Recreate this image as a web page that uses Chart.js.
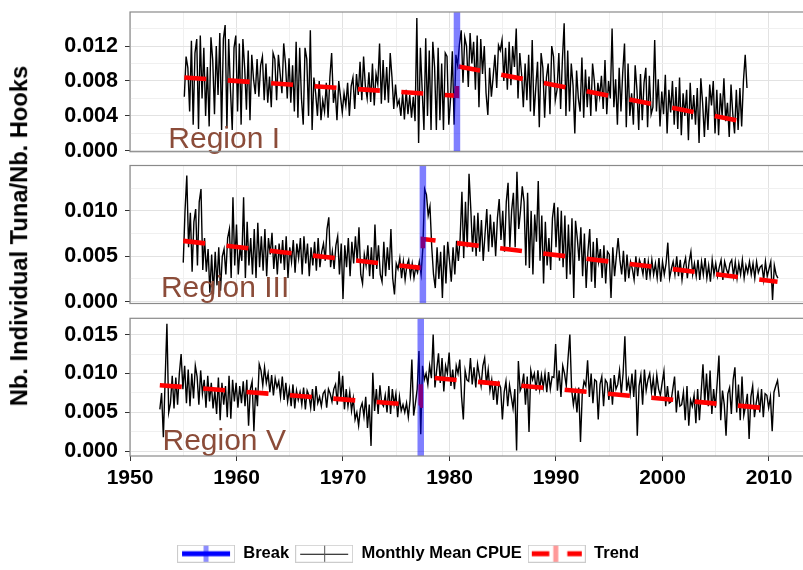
<!DOCTYPE html>
<html>
<head>
<meta charset="utf-8">
<title>Mean CPUE by region</title>
<script src="https://cdn.jsdelivr.net/npm/chart.js@4.4.1/dist/chart.umd.min.js"></script>
<style>
  html, body { margin: 0; padding: 0; background: #fff; overflow: hidden; }
  #wrap { position: relative; width: 803px; height: 570px; overflow: hidden; }
  #wrap canvas { position: absolute; left: 0; }
  #ytitle { position: absolute; left: 19.5px; top: 236px; transform: translate(-50%, -50%) rotate(-90deg);
    font: bold 23.7px "Liberation Sans", Arial, sans-serif; line-height: 1; white-space: nowrap; color: #000; }
</style>
</head>
<body>
<div id="wrap">
  <canvas id="c1" width="812" height="160" style="top:0px"></canvas>
  <canvas id="c2" width="812" height="155" style="top:155px"></canvas>
  <canvas id="c3" width="812" height="272" style="top:300px"></canvas>
  <div id="ytitle">Nb. Individual Tuna/Nb. Hooks</div>
</div>
<script>
const FONT = '"Liberation Sans", Arial, Helvetica, sans-serif';

// x axis: major years carry a label, minor years only a grid line
const xMajor = [1950, 1960, 1970, 1980, 1990, 2000, 2010];
const xMinor = [1955, 1965, 1975, 1985, 1995, 2005];

// y ticks per panel
const yMajorI = [0, 0.004, 0.008, 0.012];
const yMinorI = [0.002, 0.006, 0.010, 0.014];
const yMajorIII = [0, 0.005, 0.010];
const yMinorIII = [0.0025, 0.0075, 0.0125];
const yMajorV = [0, 0.005, 0.010, 0.015];
const yMinorV = [0.0025, 0.0075, 0.0125];

const regionNames = ['Region I', 'Region III', 'Region V'];
const breakYears = [1980.7, 1977.5, 1977.3];
const legendLabels = ['Break', 'Monthly Mean CPUE', 'Trend'];

// mean CPUE, units of 1e-4 tuna per hook,
// one value every 2 months, one row per year from the start date
const cpueStep = 1 / 6;
const cpueStartI = 1955.1;
const cpueI = [
  62, 108, 95, 45, 126, 30,
  112, 128, 25, 132, 60, 118,
  40, 96, 28, 130, 104, 42,
  120, 64, 135, 24, 128, 144,
  26, 128, 70, 24, 118, 132,
  45, 123, 30, 128, 95, 47,
  115, 35, 110, 82, 65, 105,
  62, 98, 108, 58, 100, 55,
  85, 50, 112, 105, 58, 110,
  88, 66, 123, 100, 60, 106,
  55, 98, 45, 125, 38, 118,
  60, 30, 118, 105, 40, 138,
  24, 84, 66, 40, 80, 35,
  58, 45, 78, 38, 84, 112,
  55, 70, 35, 80, 62, 44,
  66, 52, 78, 40, 74, 84,
  48, 88, 64, 102, 58, 108,
  74, 60, 90, 56, 100, 52,
  88, 76, 123, 54, 104, 58,
  96, 55, 112, 84, 48, 76,
  52, 58, 40, 66, 36, 70,
  42, 64, 38, 62, 34, 152,
  9, 118, 70, 24, 129, 40,
  115, 24, 125, 96, 24, 118,
  35, 100, 24, 112, 108, 30,
  60, 114, 30, 110, 98, 122,
  138, 78, 130, 120, 73, 135,
  100, 125, 70, 132, 50, 128,
  88, 120, 66, 41, 95, 62,
  85, 110, 72, 121, 115, 127,
  80, 118, 70, 125, 75, 120,
  96, 140, 60, 112, 88, 50,
  100, 58, 110, 45, 127, 40,
  72, 102, 27, 112, 95, 38,
  84, 100, 42, 120, 108, 58,
  70, 112, 48, 104, 146, 40,
  115, 45, 100, 75, 20, 92,
  60, 45, 107, 38, 93, 50,
  85, 40, 100, 80, 45, 78,
  62, 86, 48, 104, 42, 80,
  60, 140, 50, 82, 30, 95,
  45, 90, 123, 27, 100, 40,
  66, 30, 98, 70, 24, 88,
  35, 78, 95, 27, 86, 42,
  50, 127, 45, 82, 28, 68,
  42, 87, 20, 70, 44, 80,
  30, 73, 25, 84, 18, 66,
  40, 70, 12, 78, 36, 64,
  30, 72, 9, 83, 55, 16,
  62, 24, 76, 52, 80, 20,
  70, 18, 66, 40, 83, 34,
  55, 16, 76, 42, 20, 70,
  24, 72, 28, 80, 110, 72
];

const cpueStartIII = 1955.0;
const cpueIII = [
  43, 100, 139, 60, 98, 33,
  88, 102, 40, 110, 124, 35,
  70, 33, 58, 10, 52, 8,
  55, 18, 60, 12, 50, 58,
  30, 70, 80, 26, 115, 40,
  85, 30, 60, 45, 115, 26,
  88, 40, 70, 30, 80, 26,
  87, 38, 72, 34, 80, 28,
  70, 52, 76, 36, 62, 30,
  64, 42, 68, 35, 72, 26,
  60, 44, 68, 32, 64, 48,
  70, 30, 72, 42, 64, 28,
  60, 40, 66, 34, 70, 38,
  55, 64, 45, 80, 93, 38,
  55, 36, 62, 72, 30, 64,
  3, 62, 38, 70, 28, 66,
  42, 72, 44, 82, 30, 20,
  52, 40, 62, 28, 60, 25,
  85, 36, 62, 30, 22, 66,
  28, 60, 35, 80, 26, 8,
  42, 36, 48, 26, 44, 24,
  40, 46, 28, 42, 26, 38,
  32, 44, 30, 60, 124, 118,
  95, 105, 60, 30, 15, 60,
  25, 55, 4, 62, 20, 66,
  45, 22, 60, 30, 67, 45,
  70, 121, 48, 110, 60, 141,
  102, 55, 95, 50, 98, 55,
  90, 45, 74, 102, 55, 96,
  60, 88, 50, 92, 113, 68,
  100, 55, 110, 131, 60, 100,
  120, 60, 143, 80, 100, 127,
  110, 40, 120, 37, 100, 30,
  96, 66, 133, 45, 95, 20,
  88, 40, 70, 35, 92, 109,
  60, 104, 45, 100, 38, 95,
  25, 85, 30, 92, 4, 89,
  70, 45, 82, 28, 75, 15,
  55, 80, 22, 66, 15, 70,
  44, 58, 26, 62, 20, 55,
  52, 4, 60, 28, 50, 70,
  46, 30, 56, 22, 52, 26,
  44, 36, 24, 50, 28, 46,
  40, 30, 48, 24, 44, 28,
  46, 30, 42, 26, 48, 22,
  44, 30, 42, 65, 26, 36,
  44, 30, 50, 28, 46, 24,
  40, 48, 26, 44, 55, 30,
  42, 28, 46, 24, 44, 30,
  48, 26, 40, 22, 46, 30,
  42, 28, 38, 46, 24, 44,
  36, 30, 42, 46, 28, 44,
  26, 42, 30, 46, 26, 40,
  32, 44, 30, 42, 26, 44,
  32, 38, 40, 24, 44, 28,
  36, 44, 2, 40, 30, 26
];

const cpueStartV = 1952.8;
const cpueV = [
  54, 75, 18, 92, 164, 50,
  62, 97, 55, 95, 60, 100,
  125, 80, 110, 62, 105, 58,
  100, 68, 110, 96, 60, 104,
  74, 92, 56, 97, 64, 88,
  55, 78, 48, 95, 40, 88,
  60, 84, 44, 97, 42, 92,
  64, 88, 56, 84, 62, 90,
  58, 92, 33, 80, 90, 26,
  82, 58, 112, 104, 85, 108,
  88, 100, 76, 98, 72, 94,
  82, 90, 70, 96, 66, 88,
  64, 80, 58, 86, 55, 78,
  66, 76, 60, 82, 54, 78,
  72, 56, 80, 52, 84, 62,
  70, 58, 74, 78, 56, 80,
  74, 64, 80, 86, 60, 103,
  68, 97, 54, 80, 58, 76,
  52, 68, 41, 50, 33, 55,
  62, 45, 70, 30, 60, 7,
  101, 52, 80, 48, 85, 62,
  58, 72, 50, 84, 48, 80,
  60, 74, 44, 70, 52, 60,
  50, 62, 44, 66, 118, 46,
  62, 80, 129, 22, 110, 92,
  100, 86, 110, 94, 150, 82,
  105, 126, 88, 120, 77, 110,
  100, 127, 84, 105, 80, 110,
  100, 118, 70, 41, 104, 92,
  90, 120, 86, 108, 82, 112,
  98, 84, 110, 120, 86, 105,
  78, 92, 66, 90, 60, 88,
  82, 41, 76, 90, 58, 85,
  70, 55, 80, 1, 116, 78,
  84, 100, 60, 96, 25, 104,
  92, 100, 78, 104, 80, 98,
  82, 100, 76, 102, 80, 96,
  95, 138, 78, 104, 70, 110,
  100, 84, 120, 150, 80, 60,
  76, 50, 82, 12, 74, 90,
  84, 117, 70, 100, 62, 92,
  90, 41, 86, 96, 58, 92,
  88, 66, 94, 60, 98, 80,
  86, 104, 74, 100, 148, 78,
  92, 74, 100, 70, 105, 20,
  84, 98, 60, 105, 78, 92,
  100, 76, 94, 70, 98, 80,
  72, 88, 103, 58, 84, 62,
  64, 80, 96, 50, 78, 58,
  60, 76, 40, 84, 33, 66,
  58, 72, 36, 80, 40, 76,
  112, 62, 100, 58, 104, 48,
  80, 56, 88, 123, 40, 78,
  60, 20, 74, 82, 48, 92,
  108, 50, 86, 40, 96, 46,
  58, 74, 16, 70, 84, 44,
  62, 76, 50, 80, 44, 74,
  72, 56, 70, 26, 76, 84,
  91, 70
];

// piecewise trend: start, break (before), break (after), end
const trendI_x = [1955.1, 1980.7, 1980.7, 2007.8];
const trendI_y = [0.0084, 0.0063, 0.0097, 0.0033];
const trendIII_x = [1955.0, 1977.5, 1977.5, 2010.8];
const trendIII_y = [0.0067, 0.0037, 0.0069, 0.0022];
const trendV_x = [1952.8, 1977.3, 1977.3, 2010.9];
const trendV_y = [0.0085, 0.0059, 0.0096, 0.0054];

const series = (start, vals) => vals.map((v, i) => ({x: start + i * cpueStep, y: v / 10000}));
const zip = (xs, ys) => xs.map((x, i) => ({x, y: ys[i]}));
const near = (list, v) => list.some(m => Math.abs(m - v) < 1e-9);

const GRID_MAJOR = '#e2e2e2';
const GRID_MINOR = '#f0f0f0';

// break line, region label and panel frame
const panelDecor = {
  id: 'panelDecor',
  afterDatasetsDraw(chart, args, opts) {
    const {ctx, chartArea: a, scales: {x}} = chart;
    const bx = x.getPixelForValue(opts.breakYear);
    ctx.save();
    ctx.beginPath();
    ctx.rect(a.left, a.top, a.right - a.left, a.bottom - a.top);
    ctx.clip();
    ctx.strokeStyle = 'rgba(0,0,255,0.5)';
    ctx.lineWidth = 6.5;
    ctx.beginPath();
    ctx.moveTo(bx, a.top);
    ctx.lineTo(bx, a.bottom);
    ctx.stroke();
    ctx.restore();

    ctx.save();
    ctx.font = '30px ' + FONT;
    ctx.fillStyle = '#8B4C39';
    ctx.textBaseline = 'alphabetic';
    ctx.textAlign = 'left';
    ctx.fillText(opts.label, x.getPixelForValue(opts.labelYear), a.bottom - opts.labelLift);
    ctx.restore();

    ctx.save();
    ctx.strokeStyle = '#8a8a8a';
    ctx.lineWidth = 1.2;
    ctx.strokeRect(a.left, a.top, a.right - a.left, a.bottom - a.top);
    ctx.restore();
  }
};

function makeKey(kind) {
  const c = document.createElement('canvas');
  c.width = 58;
  c.height = 18;
  const g = c.getContext('2d');
  const seg = (x1, y1, x2, y2) => { g.beginPath(); g.moveTo(x1, y1); g.lineTo(x2, y2); g.stroke(); };
  g.fillStyle = '#fff';
  g.fillRect(0, 0, 58, 18);
  g.strokeStyle = '#cccccc';
  g.lineWidth = 1;
  g.strokeRect(0.5, 0.5, 57, 17);
  if (kind === 0) {
    g.strokeStyle = '#0000ff'; g.lineWidth = 5; seg(5, 9, 53, 9);
    g.strokeStyle = 'rgba(0,0,255,0.45)'; g.lineWidth = 5; seg(29, 1, 29, 17);
  } else if (kind === 1) {
    g.strokeStyle = '#000'; g.lineWidth = 1; seg(5, 9.5, 53, 9.5);
    g.strokeStyle = '#555'; seg(29.5, 1, 29.5, 17);
  } else {
    g.strokeStyle = '#ff0000'; g.lineWidth = 5; g.setLineDash([17.5, 18]); seg(4, 9, 54, 9);
    g.setLineDash([]); g.strokeStyle = 'rgba(255,0,0,0.4)'; seg(28, 1, 28, 17);
  }
  return c;
}
const legendKeys = [makeKey(0), makeKey(1), makeKey(2)];

function makePanel(id, p) {
  const xTicks = [...xMajor, ...xMinor].sort((a, b) => a - b);
  const yTicks = [...p.yMajor, ...p.yMinor].sort((a, b) => a - b);
  return new Chart(document.getElementById(id), {
    type: 'line',
    data: {
      datasets: [
        {
          label: 'Trend',
          data: zip(p.trendX, p.trendY),
          borderColor: '#ff0000',
          borderWidth: 4.6,
          borderDash: [22, 21.5],
          borderCapStyle: 'butt',
          pointRadius: 0,
          tension: 0,
          fill: false
        },
        {
          label: 'Monthly Mean CPUE',
          data: series(p.start, p.cpue),
          borderColor: '#000',
          borderWidth: 1.4,
          pointRadius: 0,
          tension: 0,
          fill: false
        }
      ]
    },
    options: {
      responsive: false,
      animation: false,
      devicePixelRatio: 1,
      events: [],
      layout: {padding: {top: p.padTop, bottom: p.padBottom, left: 6, right: 2}},
      plugins: {
        tooltip: {enabled: false},
        legend: p.legend ? {
          display: true,
          position: 'bottom',
          align: 'center',
          labels: {
            usePointStyle: true,
            pointStyleWidth: 58,
            padding: 6,
            color: '#000',
            font: {family: FONT, size: 16.5, weight: 'bold'},
            generateLabels: () => legendLabels.map((text, i) => ({
              text, pointStyle: legendKeys[i], fillStyle: '#fff', strokeStyle: '#fff', lineWidth: 0, hidden: false
            }))
          }
        } : {display: false},
        panelDecor: {breakYear: p.breakYear, label: p.label, labelYear: p.labelYear, labelLift: p.labelLift}
      },
      scales: {
        x: {
          type: 'linear',
          min: 1950,
          max: 2013.85,
          afterBuildTicks: s => { s.ticks = xTicks.map(v => ({value: v})); },
          afterFit: s => { s.height = p.xHeight; s.paddingLeft = 0; s.paddingRight = 0; },
          border: {display: false},
          grid: {
            color: c => (c.tick && near(xMajor, c.tick.value)) ? GRID_MAJOR : GRID_MINOR,
            lineWidth: 1,
            drawTicks: p.showX,
            tickLength: 5,
            tickColor: c => (c.tick && near(xMajor, c.tick.value)) ? '#333' : 'rgba(0,0,0,0)'
          },
          ticks: {
            display: p.showX,
            autoSkip: false,
            maxRotation: 0,
            padding: 5,
            color: '#000',
            font: {family: FONT, size: 21, weight: 'bold'},
            callback: v => near(xMajor, v) ? String(v) : ''
          }
        },
        y: {
          min: p.yMin,
          max: p.yMax,
          afterBuildTicks: s => { s.ticks = yTicks.map(v => ({value: v})); },
          afterFit: s => { s.width = 124; s.paddingTop = 0; s.paddingBottom = 0; },
          border: {display: false},
          grid: {
            color: c => (c.tick && near(p.yMajor, c.tick.value)) ? GRID_MAJOR : GRID_MINOR,
            lineWidth: 1,
            tickLength: 5,
            tickColor: c => (c.tick && near(p.yMajor, c.tick.value)) ? '#333' : 'rgba(0,0,0,0)'
          },
          ticks: {
            autoSkip: false,
            padding: 7,
            color: '#000',
            font: {family: FONT, size: 21.5, weight: 'bold'},
            callback: v => near(p.yMajor, v) ? v.toFixed(3) : ''
          }
        }
      }
    },
    plugins: [panelDecor]
  });
}

makePanel('c1', {
  start: cpueStartI, cpue: cpueI, trendX: trendI_x, trendY: trendI_y,
  breakYear: breakYears[0], label: regionNames[0], labelYear: 1953.6, labelLift: 4,
  yMin: -0.0001, yMax: 0.0159, yMajor: yMajorI, yMinor: yMinorI,
  padTop: 12, padBottom: 8.3, xHeight: 0, showX: false, legend: false
});
makePanel('c2', {
  start: cpueStartIII, cpue: cpueIII, trendX: trendIII_x, trendY: trendIII_y,
  breakYear: breakYears[1], label: regionNames[1], labelYear: 1952.9, labelLift: 6.8,
  yMin: -0.0002, yMax: 0.0150, yMajor: yMajorIII, yMinor: yMinorIII,
  padTop: 10.5, padBottom: 6.5, xHeight: 0, showX: false, legend: false
});
makePanel('c3', {
  start: cpueStartV, cpue: cpueV, trendX: trendV_x, trendY: trendV_y,
  breakYear: breakYears[2], label: regionNames[2], labelYear: 1953.05, labelLift: 6,
  yMin: -0.0006, yMax: 0.0171, yMajor: yMajorV, yMinor: yMinorV,
  padTop: 18.3, padBottom: 0, xHeight: 83.5, showX: true, legend: true
});
</script>
</body>
</html>
